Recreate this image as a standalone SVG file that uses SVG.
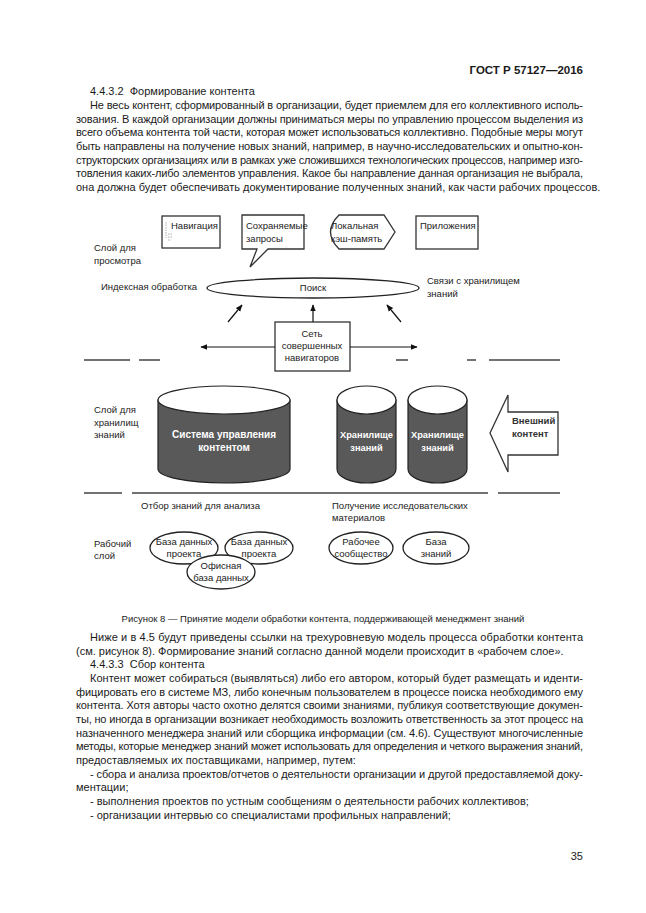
<svg xmlns="http://www.w3.org/2000/svg" width="646" height="913" viewBox="0 0 646 913">
<style>
.b{font-family:"Liberation Sans",Arial,sans-serif;font-size:11px;fill:#1a1a1a}
.l{font-family:"Liberation Sans",Arial,sans-serif;font-size:9.5px;fill:#222}
.w{font-family:"Liberation Sans",Arial,sans-serif;font-size:10px;font-weight:bold;fill:#fff;text-anchor:middle}
.ws{font-size:9.3px}
.cap{font-size:9.5px}
.hd{font-size:11.5px;font-weight:bold}
.ext{font-weight:bold;fill:#333}
.box{fill:#fff;stroke:#333;stroke-width:1.3}
.sep{stroke:#444;stroke-width:1.3;fill:none}
.cyl{fill:#595959;stroke:#222;stroke-width:1.2}
.top{fill:#fff;stroke:#222;stroke-width:1.2}
.ell{fill:#fff;stroke:#222;stroke-width:1.3}
.arr{stroke:#111;stroke-width:1.2;fill:none;marker-end:url(#ah)}
.m{text-anchor:middle}
</style>
<defs>
<marker id="ah" viewBox="0 0 10 10" refX="9" refY="5" markerWidth="7" markerHeight="7" orient="auto" markerUnits="userSpaceOnUse"><path d="M0,1 L10,5 L0,9 Z" fill="#111"/></marker>
</defs>
<rect width="646" height="913" fill="#fff"/>

<g id="page-text">
<text class="b hd" x="583" y="74" text-anchor="end">ГОСТ Р 57127—2016</text>
<text class="b" x="90" y="95">4.4.3.2&#160; Формирование контента</text>
<text class="b" x="90" y="109" textLength="493" lengthAdjust="spacing">Не весь контент, сформированный в организации, будет приемлем для его коллективного исполь-</text>
<text class="b" x="76" y="123" textLength="507" lengthAdjust="spacing">зования. В каждой организации должны приниматься меры по управлению процессом выделения из</text>
<text class="b" x="76" y="136" textLength="507" lengthAdjust="spacing">всего объема контента той части, которая может использоваться коллективно. Подобные меры могут</text>
<text class="b" x="76" y="150" textLength="507" lengthAdjust="spacing">быть направлены на получение новых знаний, например, в научно-исследовательских и опытно-кон-</text>
<text class="b" x="76" y="164" textLength="507" lengthAdjust="spacing">структорских организациях или в рамках уже сложившихся технологических процессов, например изго-</text>
<text class="b" x="76" y="177" textLength="507" lengthAdjust="spacing">товления каких-либо элементов управления. Какое бы направление данная организация не выбрала,</text>
<text class="b" x="76" y="191">она должна будет обеспечивать документирование полученных знаний, как части рабочих процессов.</text>

<text class="b cap m" x="323" y="622">Рисунок 8 — Принятие модели обработки контента, поддерживающей менеджмент знаний</text>
<text class="b" x="90" y="641" textLength="493" lengthAdjust="spacing">Ниже и в 4.5 будут приведены ссылки на трехуровневую модель процесса обработки контента</text>
<text class="b" x="76" y="655">(см. рисунок 8). Формирование знаний согласно данной модели происходит в «рабочем слое».</text>
<text class="b" x="90" y="668">4.4.3.3&#160; Сбор контента</text>
<text class="b" x="90" y="682" textLength="493" lengthAdjust="spacing">Контент может собираться (выявляться) либо его автором, который будет размещать и иденти-</text>
<text class="b" x="76" y="696" textLength="507" lengthAdjust="spacing">фицировать его в системе МЗ, либо конечным пользователем в процессе поиска необходимого ему</text>
<text class="b" x="76" y="709" textLength="507" lengthAdjust="spacing">контента. Хотя авторы часто охотно делятся своими знаниями, публикуя соответствующие докумен-</text>
<text class="b" x="76" y="723" textLength="507" lengthAdjust="spacing">ты, но иногда в организации возникает необходимость возложить ответственность за этот процесс на</text>
<text class="b" x="76" y="737" textLength="507" lengthAdjust="spacing">назначенного менеджера знаний или сборщика информации (см. 4.6). Существуют многочисленные</text>
<text class="b" x="76" y="750" textLength="507" lengthAdjust="spacing">методы, которые менеджер знаний может использовать для определения и четкого выражения знаний,</text>
<text class="b" x="76" y="764">предоставляемых их поставщиками, например, путем:</text>
<text class="b" x="90" y="778" textLength="493" lengthAdjust="spacing">- сбора и анализа проектов/отчетов о деятельности организации и другой предоставляемой доку-</text>
<text class="b" x="76" y="791">ментации;</text>
<text class="b" x="90" y="805">- выполнения проектов по устным сообщениям о деятельности рабочих коллективов;</text>
<text class="b" x="90" y="819">- организации интервью со специалистами профильных направлений;</text>
<text class="b" x="583" y="860" text-anchor="end">35</text>
</g>

<g id="layer-labels">
<text class="l" x="94" y="251">Слой для</text>
<text class="l" x="94" y="264">просмотра</text>
<text class="l" x="101" y="290">Индексная обработка</text>
<text class="l" x="427" y="284">Связи с хранилищем</text>
<text class="l" x="427" y="297">знаний</text>
<text class="l" x="94" y="413">Слой для</text>
<text class="l" x="94" y="426">хранилищ</text>
<text class="l" x="94" y="438">знаний</text>
<text class="l" x="141" y="509">Отбор знаний для анализа</text>
<text class="l" x="332" y="509">Получение исследовательских</text>
<text class="l" x="332" y="521">материалов</text>
<text class="l" x="94" y="547">Рабочий</text>
<text class="l" x="94" y="559">слой</text>
</g>

<g id="separators">
<path class="sep" d="M84,360 H130 M139,360 H160 M396,360 H408 M467,360 H476 M489,360 H560"/>
<path class="sep" d="M84,493 H122 M132,493 H488 M498,493 H560"/>
</g>

<g id="nav">
<rect class="box" x="162" y="216" width="58" height="32"/>
<path d="M166,222 V238 M168,234 H173 M168,237 H172 M168,240 H171" stroke="#999" stroke-width="0.8" stroke-dasharray="1.5,1"/>
<text class="l" x="171" y="229">Навигация</text>
</g>
<g id="saved-queries">
<path class="box" d="M242,215 H304 V249 H268 L250,267 L257,249 H242 Z"/>
<text class="l" x="246" y="229">Сохраняемые</text>
<text class="l" x="246" y="242">запросы</text>
</g>
<g id="local-cache">
<path class="box" d="M339,215 H384 L395,232 L384,249 H339 Q322,232 339,215 Z"/>
<text class="l" x="331" y="229">Локальная</text>
<text class="l" x="331" y="242">кэш-память</text>
</g>
<g id="apps">
<rect class="box" x="416" y="216" width="62" height="33"/>
<text class="l" x="420" y="229">Приложения</text>
</g>

<g id="search">
<ellipse class="ell" cx="313" cy="288" rx="106" ry="10" stroke-width="1.5"/>
<text class="l m" x="313" y="291">Поиск</text>
</g>

<g id="navigators">
<rect class="box" x="275" y="322" width="75" height="49" stroke="#555" stroke-width="1"/>
<text class="l m" x="312" y="337">Сеть</text>
<text class="l m" x="312" y="349">совершенных</text>
<text class="l m" x="312" y="361">навигаторов</text>
</g>

<g id="connectors">
<line class="arr" x1="228" y1="322" x2="242" y2="305"/>
<line class="arr" x1="313" y1="322" x2="313" y2="305"/>
<line class="arr" x1="401" y1="322" x2="387" y2="305"/>
<line class="arr" x1="275" y1="347" x2="201" y2="347"/>
<line class="arr" x1="350" y1="347" x2="417" y2="347"/>
</g>

<g id="cms">
<path class="cyl" d="M158,400 V469 A66,14 0 0 0 290,469 V400 Z"/>
<ellipse class="top" cx="224" cy="400" rx="66" ry="14"/>
<text class="w" x="224" y="438">Система управления</text>
<text class="w" x="224" y="451">контентом</text>
</g>
<g id="repo1">
<path class="cyl" d="M337,400 V469 A29.5,14 0 0 0 396,469 V400 Z"/>
<ellipse class="top" cx="366.5" cy="400" rx="29.5" ry="14"/>
<text class="w ws" x="366.5" y="438">Хранилище</text>
<text class="w ws" x="366.5" y="451">знаний</text>
</g>
<g id="repo2">
<path class="cyl" d="M408,400 V469 A29.5,14 0 0 0 467,469 V400 Z"/>
<ellipse class="top" cx="437.5" cy="400" rx="29.5" ry="14"/>
<text class="w ws" x="437.5" y="438">Хранилище</text>
<text class="w ws" x="437.5" y="451">знаний</text>
</g>
<g id="external">
<path class="box" d="M490,433 L508,395 V412 H558 V455 H508 V472 Z"/>
<text class="l ext" x="512" y="424">Внешний</text>
<text class="l ext" x="512" y="437">контент</text>
</g>

<g id="proj-db1">
<ellipse class="ell" cx="184" cy="548" rx="34" ry="16"/>
<text class="l m" x="184" y="545">База данных</text>
<text class="l m" x="184" y="557">проекта</text>
</g>
<g id="proj-db2">
<ellipse class="ell" cx="259" cy="548" rx="34" ry="16"/>
<text class="l m" x="259" y="545">База данных</text>
<text class="l m" x="259" y="557">проекта</text>
</g>
<g id="office-db">
<ellipse class="ell" cx="221" cy="572" rx="34" ry="17"/>
<text class="l m" x="221" y="569">Офисная</text>
<text class="l m" x="221" y="581">база данных</text>
</g>
<g id="community">
<ellipse class="ell" cx="361" cy="548" rx="32" ry="16"/>
<text class="l m" x="361" y="545">Рабочее</text>
<text class="l m" x="361" y="557">сообщество</text>
</g>
<g id="kb">
<ellipse class="ell" cx="436" cy="548" rx="33" ry="16"/>
<text class="l m" x="436" y="545">База</text>
<text class="l m" x="436" y="557">знаний</text>
</g>
</svg>
